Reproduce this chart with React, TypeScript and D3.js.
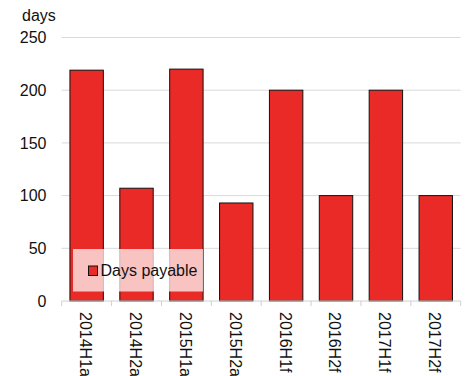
import React from "react";
import * as d3 from "d3";

const categories = ["2014H1a", "2014H2a", "2015H1a", "2015H2a", "2016H1f", "2016H2f", "2017H1f", "2017H2f"];
const daysPayable = [219, 107, 220, 93, 200, 100, 200, 100];
const yTicks = [0, 50, 100, 150, 200, 250];
const seriesName = "Days payable";
const unitLabel = "days";

const W = 466;
const H = 376;
const margin = { left: 61.7, right: 5.3, top: 37.5, bottom: 75 };
const FONT = "Liberation Sans, Arial, sans-serif";

export default function App() {
  const x = d3
    .scaleBand<string>()
    .domain(categories)
    .range([margin.left, W - margin.right])
    .paddingInner(0.33)
    .paddingOuter(0.165);
  const band = d3.scaleBand<string>().domain(categories).range([margin.left, W - margin.right]);
  const y = d3.scaleLinear().domain([0, 250]).range([H - margin.bottom, margin.top]);
  const y0 = y(0);

  return (
    <svg
      width={W}
      height={H}
      style={{ position: "absolute", left: 0, top: 0, background: "#fff" }}
      fontFamily={FONT}
    >
      {yTicks.map((t) => (
        <g key={t}>
          {t > 0 && (
            <line x1={margin.left} x2={W - margin.right} y1={y(t)} y2={y(t)} stroke="#d9d9d9" strokeWidth={1} />
          )}
          <text x={46.5} y={y(t)} dy="0.35em" textAnchor="end" fontSize={16} fill="#111">
            {t}
          </text>
        </g>
      ))}
      <text x={22} y={21} fontSize={16} fill="#111">
        {unitLabel}
      </text>

      {categories.map((c, i) => (
        <rect
          key={c}
          x={x(c)}
          y={y(daysPayable[i])}
          width={x.bandwidth()}
          height={y0 - y(daysPayable[i])}
          fill="#ea2a26"
          stroke="#111"
          strokeWidth={1}
        />
      ))}

      <line x1={margin.left} x2={W - margin.right} y1={y0} y2={y0} stroke="#d0d0d0" strokeWidth={1} />
      {categories.map((c) => (
        <line key={c} x1={band(c)} x2={band(c)} y1={y0} y2={y0 + 5} stroke="#d0d0d0" strokeWidth={1} />
      ))}
      <line x1={W - margin.right} x2={W - margin.right} y1={y0} y2={y0 + 5} stroke="#d0d0d0" strokeWidth={1} />

      {categories.map((c) => {
        const cx = (x(c) ?? 0) + x.bandwidth() / 2 - 1;
        return (
          <text
            key={c}
            transform={`translate(${cx},${y0 + 11}) rotate(90)`}
            dy="0.35em"
            fontSize={16}
            fill="#111"
          >
            {c}
          </text>
        );
      })}

      <g>
        <rect x={73} y={249} width={130} height={42.5} fill="#fff" fillOpacity={0.72} />
        <rect x={88.5} y={266} width={9} height={9.5} fill="#ea2a26" stroke="#111" strokeWidth={1} />
        <text x={100.5} y={270.5} dy="0.35em" fontSize={16} fill="#111">
          {seriesName}
        </text>
      </g>
    </svg>
  );
}
